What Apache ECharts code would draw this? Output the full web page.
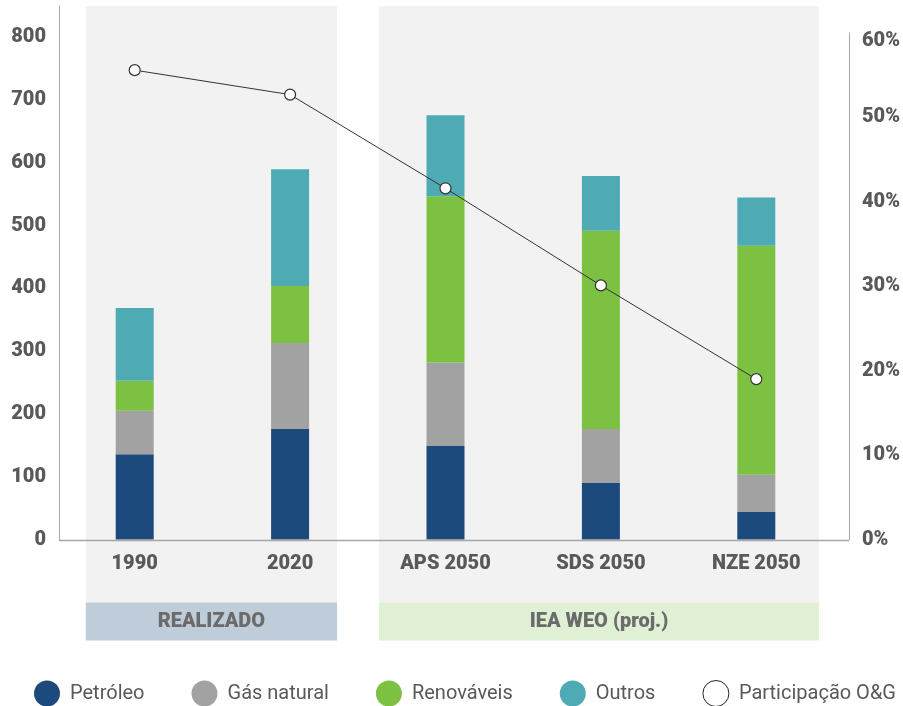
<!DOCTYPE html>
<html>
<head>
<meta charset="utf-8">
<script src="https://cdn.jsdelivr.net/npm/echarts@6/dist/echarts.min.js"></script>
<style>
  html, body { margin: 0; padding: 0; background: #ffffff; }
  #chart { width: 903px; height: 706px; }
</style>
</head>
<body>
<div id="chart"></div>
<script>
// ---- data ----
const categories = ['1990', '2020', 'APS 2050', 'SDS 2050', 'NZE 2050'];
const petroleo = [136, 176, 149, 90, 44];
const gasNatural = [69, 137, 133, 86, 59];
const renovaveis = [48, 91, 265, 316, 365];
const outros = [116, 186, 129, 87, 77];
const participacaoOG = [55.6, 52.7, 41.6, 30.1, 19.0];   // %
const volumeTicks = [0, 100, 200, 300, 400, 500, 600, 700, 800];
const shareTicks = [0, 10, 20, 30, 40, 50, 60];          // %
const groupLabels = ['REALIZADO', 'IEA WEO (proj.)'];
const groupSpans = [[0, 1], [2, 4]];                       // category index ranges

// ---- layout / style ----
const FONT = 'Roboto, "DejaVu Sans", sans-serif';
const TEXT = '#595959';
const AXIS = '#a6a6a6';
const GRID = { left: 57, right: 69, bottom: 166.5 };
const VOLUME_TOP = 850;              // left axis runs a little above the last label
const LEFT_OFFSET = -2, RIGHT_OFFSET = 15;
// band edges, in category units beyond the first/last category of each group
const bandPad = [[0.315, 0.302], [0.428, 0.403]];
const bandFill = '#f2f2f2';
const boxFill = ['#bfcddb', '#dff0d4'];
const HEAVY = 900;

const chart = echarts.init(document.getElementById('chart'), null, { renderer: 'canvas' });

const step = volumeTicks[1] - volumeTicks[0];
const shareStep = shareTicks[1] - shareTicks[0];
const shareMax = shareTicks[shareTicks.length - 1];

function bar(name, data, color) {
  return {
    name, type: 'bar', stack: 'total', data,
    xAxisIndex: 0, yAxisIndex: 0,
    barWidth: 38,
    itemStyle: { color },
    emphasis: { disabled: true },
    z: 3
  };
}

const labelStyle = { fontFamily: FONT, fontSize: 20, fontWeight: HEAVY, color: TEXT };

chart.setOption({
  animation: false,
  textStyle: { fontFamily: FONT },
  grid: [
    { left: GRID.left, right: GRID.right, top: 6, bottom: GRID.bottom },
    { left: GRID.left, right: GRID.right, top: 33, bottom: GRID.bottom }
  ],
  xAxis: [
    {
      type: 'category', gridIndex: 0, data: categories,
      axisLine: { show: false }, axisTick: { show: false },
      axisLabel: Object.assign({ margin: 14, interval: 0 }, labelStyle)
    },
    {
      type: 'category', gridIndex: 1, data: categories, show: false
    }
  ],
  yAxis: [
    {
      type: 'value', gridIndex: 0, position: 'left', offset: LEFT_OFFSET,
      min: volumeTicks[0], max: VOLUME_TOP, interval: step,
      splitLine: { show: false }, axisTick: { show: false },
      axisLine: { show: true, lineStyle: { color: AXIS, width: 1 } },
      axisLabel: Object.assign({ margin: 13, showMaxLabel: false }, labelStyle)
    },
    {
      type: 'value', gridIndex: 1, position: 'right', offset: RIGHT_OFFSET,
      min: shareTicks[0], max: shareMax, interval: shareStep,
      splitLine: { show: false }, axisTick: { show: false },
      axisLine: { show: true, lineStyle: { color: AXIS, width: 1 } },
      axisLabel: Object.assign({
        margin: 13,
        formatter: v => v === shareMax ? '{top|' + v + '%}' : v + '%',
        rich: { top: Object.assign({ padding: [16, 0, 0, 0] }, labelStyle) }
      }, labelStyle)
    }
  ],
  legend: {
    left: 34, top: 680, width: 869, padding: 0,
    icon: 'circle', itemWidth: 26, itemHeight: 26, itemGap: 47,
    textStyle: { fontFamily: FONT, fontSize: 20, color: TEXT, padding: [0, 0, 0, 5] },
    data: [
      'Petróleo', 'Gás natural', 'Renováveis', 'Outros',
      { name: 'Participação O&G', icon: 'circle',
        itemStyle: { color: '#ffffff', borderColor: '#222222', borderWidth: 1 } }
    ]
  },
  series: [
    bar('Petróleo', petroleo, '#1c4a7c'),
    bar('Gás natural', gasNatural, '#a2a2a2'),
    bar('Renováveis', renovaveis, '#7dc142'),
    bar('Outros', outros, '#4eabb4'),
    {
      name: 'Participação O&G', type: 'line', data: participacaoOG,
      xAxisIndex: 1, yAxisIndex: 1,
      symbol: 'circle', symbolSize: 11,
      lineStyle: { color: '#333333', width: 1 },
      itemStyle: { color: '#ffffff', borderColor: '#333333', borderWidth: 1.2 },
      emphasis: { disabled: true },
      z: 6
    }
  ]
});

// Background bands, group captions and the shared baseline, placed from the axes.
function drawDecor() {
  const px = i => chart.convertToPixel({ xAxisIndex: 0 }, i);
  const bw = px(1) - px(0);
  const yTop = chart.convertToPixel({ yAxisIndex: 0 }, VOLUME_TOP);
  const yBase = chart.convertToPixel({ yAxisIndex: 0 }, 0);
  const boxTop = yBase + 63, boxBottom = yBase + 101;
  const width = chart.getWidth();
  const leftAxisX = GRID.left - LEFT_OFFSET;
  const rightAxisX = width - GRID.right + RIGHT_OFFSET;

  const elements = [];
  groupSpans.forEach((span, g) => {
    const x0 = px(span[0]) - bandPad[g][0] * bw;
    const x1 = px(span[1]) + bandPad[g][1] * bw;
    elements.push({
      type: 'rect', z: -10, silent: true,
      shape: { x: x0, y: yTop, width: x1 - x0, height: boxTop - yTop },
      style: { fill: bandFill }
    });
    elements.push({
      type: 'rect', z: -10, silent: true,
      shape: { x: x0, y: boxTop, width: x1 - x0, height: boxBottom - boxTop },
      style: { fill: boxFill[g] }
    });
    elements.push({
      type: 'text', z: 10, silent: true,
      x: (x0 + x1) / 2, y: (boxTop + boxBottom) / 2,
      style: {
        text: groupLabels[g], fill: '#6b6b6b',
        font: HEAVY + ' 20px ' + FONT, align: 'center', verticalAlign: 'middle'
      }
    });
  });
  elements.push({
    type: 'line', z: 10, silent: true,
    shape: { x1: leftAxisX, y1: Math.round(yBase) + 0.5, x2: rightAxisX, y2: Math.round(yBase) + 0.5 },
    style: { stroke: AXIS, lineWidth: 1.5 }
  });
  chart.setOption({ graphic: { elements } });
}
drawDecor();
</script>
</body>
</html>
